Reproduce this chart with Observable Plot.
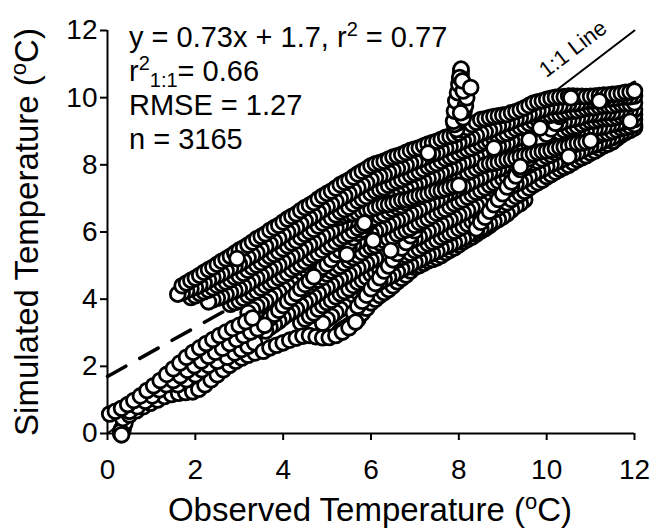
<!DOCTYPE html>
<html><head><meta charset="utf-8">
<script src="https://cdn.jsdelivr.net/npm/d3@7"></script>
<script src="https://cdn.jsdelivr.net/npm/@observablehq/plot@0.6"></script>
<style>body{margin:0;background:#fff;} svg{display:block;}</style>
</head><body><div id="chart"></div>
<script>
const xTicks = [0,2,4,6,8,10,12];
const yTicks = [0,2,4,6,8,10,12];
const fitLine = [[0,1.7],[12,10.46]];
const oneToOne = [[0,0],[12,12]];

const sA = [1.7,4.40, 1.8,4.48, 1.9,4.56, 2.0,4.63, 2.1,4.71, 2.2,4.80, 2.3,4.88, 2.4,4.95, 2.5,5.04, 2.6,5.13, 2.7,5.20, 2.8,5.28, 2.9,5.37, 3.0,5.46, 3.1,5.53, 3.2,5.61, 3.3,5.70, 3.4,5.80, 3.5,5.87, 3.6,5.95, 3.7,6.05, 3.8,6.13, 3.9,6.20, 4.0,6.30, 4.1,6.39, 4.2,6.47, 4.3,6.54, 4.4,6.64, 4.5,6.73, 4.6,6.80, 4.7,6.88, 4.8,6.98, 4.9,7.07, 5.0,7.15, 5.1,7.22, 5.2,7.31, 5.3,7.41, 5.4,7.48, 5.5,7.55, 5.6,7.64, 5.7,7.73, 5.8,7.81, 5.9,7.88, 6.0,7.97, 6.1,8.03, 6.2,8.07, 6.3,8.11, 6.4,8.17, 6.5,8.23, 6.6,8.27, 6.7,8.31, 6.8,8.37, 6.9,8.43, 7.0,8.47, 7.1,8.51, 7.2,8.57, 7.3,8.62, 7.4,8.66, 7.5,8.70, 7.6,8.76, 7.7,8.82, 7.8,8.85, 7.9,8.89, 8.0,8.95, 8.1,9.03, 8.2,9.11, 8.3,9.20, 8.4,9.27, 8.5,9.35, 8.6,9.37, 8.7,9.41, 8.8,9.44, 8.9,9.46, 9.0,9.48, 9.1,9.50, 9.2,9.55, 9.3,9.59, 9.4,9.64, 9.5,9.70, 9.6,9.77, 9.7,9.84, 9.8,9.88, 9.9,9.91, 10.0,9.95, 10.1,9.98, 10.2,10.01, 10.3,10.02, 10.4,10.03, 10.5,10.05, 10.6,10.05, 10.7,10.04, 10.8,10.04, 10.9,10.03, 11.0,10.04, 11.1,10.05, 11.2,10.06, 11.3,10.08, 11.4,10.08, 11.5,10.10, 11.6,10.11, 11.7,10.13, 11.8,10.16, 11.9,10.17, 12.0,10.20];
const sB = [1.6,4.15, 1.7,4.19, 1.8,4.25, 1.9,4.31, 2.0,4.35, 2.1,4.42, 2.2,4.48, 2.3,4.56, 2.4,4.64, 2.5,4.70, 2.6,4.76, 2.7,4.84, 2.8,4.92, 2.9,4.98, 3.0,5.05, 3.1,5.13, 3.2,5.23, 3.3,5.30, 3.4,5.38, 3.5,5.47, 3.6,5.57, 3.7,5.64, 3.8,5.72, 3.9,5.81, 4.0,5.90, 4.1,5.99, 4.2,6.07, 4.3,6.14, 4.4,6.24, 4.5,6.33, 4.6,6.41, 4.7,6.48, 4.8,6.58, 4.9,6.67, 5.0,6.75, 5.1,6.82, 5.2,6.91, 5.3,7.00, 5.4,7.07, 5.5,7.14, 5.6,7.23, 5.7,7.32, 5.8,7.39, 5.9,7.46, 6.0,7.55, 6.1,7.61, 6.2,7.66, 6.3,7.70, 6.4,7.77, 6.5,7.83, 6.6,7.88, 6.7,7.92, 6.8,7.99, 6.9,8.05, 7.0,8.10, 7.1,8.14, 7.2,8.21, 7.3,8.27, 7.4,8.32, 7.5,8.36, 7.6,8.43, 7.7,8.49, 7.8,8.54, 7.9,8.58, 8.0,8.65, 8.1,8.71, 8.2,8.76, 8.3,8.80, 8.4,8.87, 8.5,8.93, 8.6,8.98, 8.7,9.02, 8.8,9.09, 8.9,9.15, 9.0,9.20, 9.1,9.24, 9.2,9.30, 9.3,9.36, 9.4,9.40, 9.5,9.44, 9.6,9.50, 9.7,9.56, 9.8,9.60, 9.9,9.64, 10.0,9.70, 10.1,9.73, 10.2,9.74, 10.3,9.75, 10.4,9.78, 10.5,9.81, 10.6,9.82, 10.7,9.83, 10.8,9.86, 10.9,9.89, 11.0,9.90, 11.1,9.91, 11.2,9.93, 11.3,9.96, 11.4,9.96, 11.5,9.97, 11.6,9.99, 11.7,10.02, 11.8,10.02, 11.9,10.03, 12.0,10.05];
const sC = [1.9,4.05, 2.0,4.10, 2.1,4.17, 2.2,4.22, 2.3,4.27, 2.4,4.34, 2.5,4.41, 2.6,4.46, 2.7,4.51, 2.8,4.58, 2.9,4.65, 3.0,4.70, 3.1,4.77, 3.2,4.86, 3.3,4.95, 3.4,5.02, 3.5,5.09, 3.6,5.18, 3.7,5.27, 3.8,5.34, 3.9,5.41, 4.0,5.50, 4.1,5.59, 4.2,5.67, 4.3,5.74, 4.4,5.84, 4.5,5.93, 4.6,6.01, 4.7,6.08, 4.8,6.18, 4.9,6.27, 5.0,6.35, 5.1,6.42, 5.2,6.51, 5.3,6.60, 5.4,6.67, 5.5,6.74, 5.6,6.83, 5.7,6.92, 5.8,6.99, 5.9,7.06, 6.0,7.15, 6.1,7.22, 6.2,7.27, 6.3,7.32, 6.4,7.39, 6.5,7.46, 6.6,7.51, 6.7,7.56, 6.8,7.63, 6.9,7.70, 7.0,7.75, 7.1,7.80, 7.2,7.87, 7.3,7.94, 7.4,7.99, 7.5,8.04, 7.6,8.11, 7.7,8.18, 7.8,8.23, 7.9,8.28, 8.0,8.35, 8.1,8.41, 8.2,8.46, 8.3,8.50, 8.4,8.57, 8.5,8.63, 8.6,8.68, 8.7,8.72, 8.8,8.79, 8.9,8.85, 9.0,8.90, 9.1,8.94, 9.2,9.01, 9.3,9.07, 9.4,9.12, 9.5,9.16, 9.6,9.23, 9.7,9.29, 9.8,9.34, 9.9,9.38, 10.0,9.45, 10.1,9.48, 10.2,9.50, 10.3,9.51, 10.4,9.55, 10.5,9.58, 10.6,9.60, 10.7,9.61, 10.8,9.65, 10.9,9.68, 11.0,9.70, 11.1,9.70, 11.2,9.73, 11.3,9.75, 11.4,9.76, 11.5,9.76, 11.6,9.79, 11.7,9.81, 11.8,9.82, 11.9,9.82, 12.0,9.85];
const sD = [2.3,3.92, 2.4,3.98, 2.5,4.03, 2.6,4.07, 2.7,4.14, 2.8,4.20, 2.9,4.25, 3.0,4.30, 3.1,4.37, 3.2,4.46, 3.3,4.55, 3.4,4.62, 3.5,4.69, 3.6,4.78, 3.7,4.87, 3.8,4.94, 3.9,5.01, 4.0,5.10, 4.1,5.19, 4.2,5.27, 4.3,5.34, 4.4,5.44, 4.5,5.53, 4.6,5.61, 4.7,5.68, 4.8,5.78, 4.9,5.87, 5.0,5.95, 5.1,6.02, 5.2,6.11, 5.3,6.20, 5.4,6.27, 5.5,6.34, 5.6,6.43, 5.7,6.52, 5.8,6.59, 5.9,6.66, 6.0,6.75, 6.1,6.82, 6.2,6.88, 6.3,6.93, 6.4,7.01, 6.5,7.08, 6.6,7.14, 6.7,7.19, 6.8,7.27, 6.9,7.34, 7.0,7.40, 7.1,7.45, 7.2,7.52, 7.3,7.59, 7.4,7.64, 7.5,7.69, 7.6,7.76, 7.7,7.83, 7.8,7.88, 7.9,7.93, 8.0,8.00, 8.1,8.07, 8.2,8.12, 8.3,8.17, 8.4,8.24, 8.5,8.31, 8.6,8.36, 8.7,8.41, 8.8,8.48, 8.9,8.55, 9.0,8.60, 9.1,8.64, 9.2,8.71, 9.3,8.77, 9.4,8.82, 9.5,8.86, 9.6,8.93, 9.7,8.99, 9.8,9.04, 9.9,9.08, 10.0,9.15, 10.1,9.19, 10.2,9.22, 10.3,9.24, 10.4,9.29, 10.5,9.33, 10.6,9.36, 10.7,9.38, 10.8,9.43, 10.9,9.47, 11.0,9.50, 11.1,9.50, 11.2,9.53, 11.3,9.55, 11.4,9.56, 11.5,9.56, 11.6,9.59, 11.7,9.61, 11.8,9.62, 11.9,9.62, 12.0,9.65];
const sE = [2.8,3.85, 2.9,3.90, 3.0,3.95, 3.1,4.03, 3.2,4.11, 3.3,4.18, 3.4,4.24, 3.5,4.33, 3.6,4.41, 3.7,4.48, 3.8,4.54, 3.9,4.63, 4.0,4.70, 4.1,4.78, 4.2,4.88, 4.3,4.96, 4.4,5.03, 4.5,5.12, 4.6,5.22, 4.7,5.30, 4.8,5.37, 4.9,5.46, 5.0,5.55, 5.1,5.62, 5.2,5.71, 5.3,5.80, 5.4,5.87, 5.5,5.94, 5.6,6.03, 5.7,6.12, 5.8,6.19, 5.9,6.26, 6.0,6.35, 6.1,6.42, 6.2,6.48, 6.3,6.53, 6.4,6.61, 6.5,6.68, 6.6,6.74, 6.7,6.79, 6.8,6.87, 6.9,6.94, 7.0,7.00, 7.1,7.05, 7.2,7.13, 7.3,7.20, 7.4,7.26, 7.5,7.31, 7.6,7.39, 7.7,7.46, 7.8,7.52, 7.9,7.57, 8.0,7.65, 8.1,7.72, 8.2,7.77, 8.3,7.82, 8.4,7.89, 8.5,7.96, 8.6,8.01, 8.7,8.06, 8.8,8.13, 8.9,8.20, 9.0,8.25, 9.1,8.30, 9.2,8.37, 9.3,8.44, 9.4,8.49, 9.5,8.54, 9.6,8.61, 9.7,8.68, 9.8,8.73, 9.9,8.78, 10.0,8.85, 10.1,8.89, 10.2,8.94, 10.3,8.97, 10.4,9.03, 10.5,9.08, 10.6,9.12, 10.7,9.15, 10.8,9.21, 10.9,9.26, 11.0,9.30, 11.1,9.31, 11.2,9.34, 11.3,9.37, 11.4,9.38, 11.5,9.39, 11.6,9.42, 11.7,9.45, 11.8,9.46, 11.9,9.47, 12.0,9.50];
const sF = [3.2,3.60, 3.3,3.69, 3.4,3.79, 3.5,3.86, 3.6,3.94, 3.7,4.04, 3.8,4.14, 3.9,4.21, 4.0,4.30, 4.1,4.38, 4.2,4.48, 4.3,4.56, 4.4,4.63, 4.5,4.72, 4.6,4.82, 4.7,4.90, 4.8,4.97, 4.9,5.06, 5.0,5.15, 5.1,5.22, 5.2,5.31, 5.3,5.40, 5.4,5.47, 5.5,5.54, 5.6,5.63, 5.7,5.72, 5.8,5.79, 5.9,5.86, 6.0,5.95, 6.1,6.02, 6.2,6.08, 6.3,6.13, 6.4,6.21, 6.5,6.28, 6.6,6.34, 6.7,6.39, 6.8,6.47, 6.9,6.54, 7.0,6.60, 7.1,6.66, 7.2,6.74, 7.3,6.82, 7.4,6.88, 7.5,6.94, 7.6,7.02, 7.7,7.10, 7.8,7.16, 7.9,7.22, 8.0,7.30, 8.1,7.35, 8.2,7.43, 8.3,7.50, 8.4,7.56, 8.5,7.61, 8.6,7.69, 8.7,7.76, 8.8,7.82, 8.9,7.87, 9.0,7.95, 9.1,8.01, 9.2,8.07, 9.3,8.12, 9.4,8.19, 9.5,8.26, 9.6,8.31, 9.7,8.36, 9.8,8.43, 9.9,8.50, 10.0,8.55, 10.1,8.59, 10.2,8.65, 10.3,8.71, 10.4,8.75, 10.5,8.79, 10.6,8.85, 10.7,8.91, 10.8,8.95, 10.9,8.99, 11.0,9.05, 11.1,9.08, 11.2,9.11, 11.3,9.13, 11.4,9.17, 11.5,9.21, 11.6,9.23, 11.7,9.25, 11.8,9.29, 11.9,9.33, 12.0,9.35];
const sG = [3.4,3.30, 3.5,3.41, 3.6,3.50, 3.7,3.59, 3.8,3.70, 3.9,3.81, 4.0,3.90, 4.1,3.97, 4.2,4.07, 4.3,4.16, 4.4,4.23, 4.5,4.31, 4.6,4.41, 4.7,4.50, 4.8,4.57, 4.9,4.65, 5.0,4.75, 5.1,4.84, 5.2,4.91, 5.3,4.98, 5.4,5.07, 5.5,5.16, 5.6,5.23, 5.7,5.30, 5.8,5.39, 5.9,5.48, 6.0,5.55, 6.1,5.60, 6.2,5.68, 6.3,5.75, 6.4,5.80, 6.5,5.86, 6.6,5.94, 6.7,6.01, 6.8,6.06, 6.9,6.12, 7.0,6.20, 7.1,6.28, 7.2,6.34, 7.3,6.40, 7.4,6.48, 7.5,6.56, 7.6,6.62, 7.7,6.68, 7.8,6.76, 7.9,6.84, 8.0,6.90, 8.1,6.96, 8.2,7.04, 8.3,7.12, 8.4,7.18, 8.5,7.24, 8.6,7.32, 8.7,7.40, 8.8,7.46, 8.9,7.52, 9.0,7.60, 9.1,7.65, 9.2,7.73, 9.3,7.80, 9.4,7.85, 9.5,7.91, 9.6,7.99, 9.7,8.06, 9.8,8.11, 9.9,8.17, 10.0,8.25, 10.1,8.29, 10.2,8.36, 10.3,8.42, 10.4,8.46, 10.5,8.51, 10.6,8.58, 10.7,8.64, 10.8,8.68, 10.9,8.73, 11.0,8.80, 11.1,8.83, 11.2,8.88, 11.3,8.93, 11.4,8.95, 11.5,8.99, 11.6,9.04, 11.7,9.09, 11.8,9.11, 11.9,9.15, 12.0,9.20];
const sH = [3.6,3.05, 3.7,3.16, 3.8,3.25, 3.9,3.34, 4.0,3.45, 4.1,3.55, 4.2,3.63, 4.3,3.71, 4.4,3.81, 4.5,3.91, 4.6,3.99, 4.7,4.07, 4.8,4.17, 4.9,4.27, 5.0,4.35, 5.1,4.42, 5.2,4.51, 5.3,4.60, 5.4,4.67, 5.5,4.74, 5.6,4.83, 5.7,4.92, 5.8,4.99, 5.9,5.06, 6.0,5.15, 6.1,5.22, 6.2,5.27, 6.3,5.33, 6.4,5.41, 6.5,5.48, 6.6,5.53, 6.7,5.59, 6.8,5.67, 6.9,5.74, 7.0,5.80, 7.1,5.86, 7.2,5.94, 7.3,6.02, 7.4,6.08, 7.5,6.14, 7.6,6.22, 7.7,6.30, 7.8,6.36, 7.9,6.42, 8.0,6.50, 8.1,6.56, 8.2,6.64, 8.3,6.72, 8.4,6.78, 8.5,6.84, 8.6,6.92, 8.7,7.00, 8.8,7.06, 8.9,7.12, 9.0,7.20, 9.1,7.27, 9.2,7.36, 9.3,7.43, 9.4,7.49, 9.5,7.56, 9.6,7.65, 9.7,7.73, 9.8,7.80, 9.9,7.86, 10.0,7.95, 10.1,8.01, 10.2,8.06, 10.3,8.12, 10.4,8.19, 10.5,8.26, 10.6,8.31, 10.7,8.36, 10.8,8.43, 10.9,8.50, 11.0,8.55, 11.1,8.59, 11.2,8.66, 11.3,8.72, 11.4,8.76, 11.5,8.81, 11.6,8.88, 11.7,8.94, 11.8,8.98, 11.9,9.03, 12.0,9.10];
const sI = [4.4,3.30, 4.5,3.41, 4.6,3.50, 4.7,3.59, 4.8,3.70, 4.9,3.81, 5.0,3.90, 5.1,3.97, 5.2,4.07, 5.3,4.16, 5.4,4.23, 5.5,4.31, 5.6,4.41, 5.7,4.50, 5.8,4.57, 5.9,4.65, 6.0,4.75, 6.1,4.81, 6.2,4.89, 6.3,4.97, 6.4,5.03, 6.5,5.09, 6.6,5.17, 6.7,5.25, 6.8,5.31, 6.9,5.37, 7.0,5.45, 7.1,5.50, 7.2,5.58, 7.3,5.65, 7.4,5.70, 7.5,5.76, 7.6,5.84, 7.7,5.91, 7.8,5.96, 7.9,6.02, 8.0,6.10, 8.1,6.16, 8.2,6.24, 8.3,6.32, 8.4,6.38, 8.5,6.44, 8.6,6.52, 8.7,6.60, 8.8,6.66, 8.9,6.72, 9.0,6.80, 9.1,6.87, 9.2,6.97, 9.3,7.06, 9.4,7.13, 9.5,7.21, 9.6,7.31, 9.7,7.40, 9.8,7.47, 9.9,7.55, 10.0,7.65, 10.1,7.71, 10.2,7.79, 10.3,7.87, 10.4,7.93, 10.5,7.99, 10.6,8.07, 10.7,8.15, 10.8,8.21, 10.9,8.27, 11.0,8.35, 11.1,8.41, 11.2,8.49, 11.3,8.57, 11.4,8.62, 11.5,8.70];
const sJ = [4.9,3.28, 5.0,3.40, 5.1,3.49, 5.2,3.60, 5.3,3.70, 5.4,3.78, 5.5,3.87, 5.6,3.98, 5.7,4.08, 5.8,4.16, 5.9,4.25, 6.0,4.35, 6.1,4.42, 6.2,4.51, 6.3,4.59, 6.4,4.65, 6.5,4.72, 6.6,4.81, 6.7,4.89, 6.8,4.95, 6.9,5.02, 7.0,5.10, 7.1,5.16, 7.2,5.24, 7.3,5.31, 7.4,5.36, 7.5,5.42, 7.6,5.50, 7.7,5.57, 7.8,5.62, 7.9,5.68, 8.0,5.75, 8.1,5.81, 8.2,5.90, 8.3,5.97, 8.4,6.03, 8.5,6.09, 8.6,6.18, 8.7,6.25, 8.8,6.31, 8.9,6.37, 9.0,6.45, 9.1,6.54, 9.2,6.66, 9.3,6.77, 9.4,6.85, 9.5,6.96];
const sK = [5.3,3.05, 5.4,3.14, 5.5,3.22, 5.6,3.29, 5.7,3.40, 5.8,3.58, 5.9,3.73, 6.0,3.89, 6.1,4.00, 6.2,4.11, 6.3,4.20, 6.4,4.29, 6.5,4.40, 6.6,4.52, 6.7,4.62, 6.8,4.72, 6.9,4.84, 7.0,4.95, 7.1,5.00, 7.2,5.07, 7.3,5.14, 7.4,5.18, 7.5,5.23, 7.6,5.30, 7.7,5.39, 7.8,5.46, 7.9,5.53, 8.0,5.62, 8.1,5.71, 8.2,5.78, 8.3,5.85, 8.4,5.94, 8.5,6.03, 8.6,6.10, 8.7,6.19, 8.8,6.30, 8.9,6.41, 9.0,6.50, 9.1,6.59, 9.2,6.76, 9.3,6.94, 9.4,7.09, 9.5,7.24, 9.6,7.33, 9.7,7.42, 9.8,7.49, 9.9,7.55, 10.0,7.64, 10.1,7.73, 10.2,7.80, 10.3,7.87, 10.4,7.97, 10.5,8.06, 10.6,8.13, 10.7,8.21, 10.8,8.30, 10.9,8.37, 11.0,8.41, 11.1,8.46, 11.2,8.53, 11.3,8.60, 11.4,8.64, 11.5,8.69, 11.6,8.79, 11.7,8.89, 11.8,8.97, 11.9,9.05, 12.0,9.15];
// crossing strands
const cX1 = [3.6,3.30, 3.7,3.44, 3.8,3.55, 3.9,3.67, 4.0,3.81, 4.1,3.94, 4.2,4.05, 4.3,4.17, 4.4,4.32, 4.5,4.44, 4.6,4.55, 4.7,4.68, 4.8,4.82, 4.9,4.95, 5.0,5.05, 5.1,5.18, 5.2,5.33, 5.3,5.45, 5.4,5.56, 5.5,5.68, 5.6,5.83, 5.7,5.96, 5.8,6.06, 5.9,6.19, 6.0,6.33, 6.1,6.46, 6.2,6.57, 6.3,6.69, 6.4,6.84, 6.5,6.96, 6.6,7.07, 6.7,7.19, 6.8,7.34, 6.9,7.46, 7.0,7.57];
const cX2 = [4.6,6.20, 4.7,6.25, 4.8,6.27, 4.9,6.30, 5.0,6.35, 5.1,6.39, 5.2,6.40, 5.3,6.44, 5.4,6.49, 5.5,6.53, 5.6,6.54, 5.7,6.58, 5.8,6.63, 5.9,6.67, 6.0,6.68, 6.1,6.72, 6.2,6.77, 6.3,6.81, 6.4,6.82, 6.5,6.86, 6.6,6.91, 6.7,6.95, 6.8,6.96, 6.9,7.00, 7.0,7.05, 7.1,7.09, 7.2,7.10, 7.3,7.14, 7.4,7.19, 7.5,7.23, 7.6,7.24, 7.7,7.28, 7.8,7.33, 7.9,7.37, 8.0,7.39];
const cX3 = [8.4,6.10, 8.5,6.29, 8.6,6.44, 8.7,6.62, 8.8,6.81, 8.9,6.97, 9.0,7.14, 9.1,7.34, 9.2,7.49, 9.3,7.67, 9.4,7.86, 9.5,8.02, 9.6,8.19, 9.7,8.39, 9.8,8.54, 9.9,8.72, 10.0,8.91, 10.1,9.07, 10.2,9.24, 10.3,9.44, 10.4,9.59];
const cX4 = [8.6,8.00, 8.7,8.04, 8.8,8.05, 8.9,8.08, 9.0,8.13, 9.1,8.16, 9.2,8.17, 9.3,8.20, 9.4,8.25, 9.5,8.28, 9.6,8.29, 9.7,8.32, 9.8,8.37, 9.9,8.40, 10.0,8.41, 10.1,8.44, 10.2,8.49, 10.3,8.52, 10.4,8.53, 10.5,8.56, 10.6,8.61, 10.7,8.64, 10.8,8.65, 10.9,8.68, 11.0,8.72];
const cX5 = [5.6,3.60, 5.7,3.79, 5.8,3.94, 5.9,4.12, 6.0,4.31, 6.1,4.47, 6.2,4.64, 6.3,4.84, 6.4,4.99, 6.5,5.17, 6.6,5.36, 6.7,5.52, 6.8,5.69, 6.9,5.89, 7.0,6.04, 7.1,6.22, 7.2,6.41];
const spike = [7.95,9.05, 7.98,9.25, 8.00,9.45, 8.03,9.65, 8.05,9.85, 8.06,10.05, 8.05,10.25, 8.04,10.42, 8.03,10.55, 8.04,10.63, 8.05,10.70, 8.04,10.76, 8.05,10.81, 8.05,10.85, 7.90,9.20, 7.92,9.50, 7.88,9.30, 7.90,9.60, 7.93,9.90, 7.97,10.15, 8.00,10.40, 8.02,10.60, 8.10,9.40, 8.12,9.60, 8.15,9.75, 8.18,10.00, 8.10,10.20, 8.08,10.50];
const lowRow = [3.55,2.45, 3.70,2.55, 3.85,2.63, 4.00,2.70, 4.15,2.78, 4.30,2.84, 4.45,2.90, 4.60,2.92, 4.75,2.88, 4.90,2.85, 5.05,2.86, 5.20,2.92, 5.35,3.02, 5.50,3.15, 5.65,3.32];
const nearZero = [0.30,0.00, 0.31,0.04, 0.33,0.08, 0.32,0.12, 0.34,0.16, 0.33,0.03, 0.35,0.10, 0.36,0.20, 0.38,0.26, 0.40,0.33, 0.30,0.06, 0.32,-0.04];
const tailTop = [0.05,0.58, 0.18,0.66, 0.32,0.75, 0.46,0.86, 0.60,0.98, 0.75,1.12, 0.90,1.28, 1.05,1.42, 1.20,1.58, 1.35,1.76, 1.50,1.93, 1.65,2.10, 1.80,2.27, 1.95,2.42, 2.10,2.55, 2.25,2.68, 2.40,2.80, 2.55,2.92, 2.70,3.02, 2.85,3.13, 3.00,3.22, 3.15,3.33, 3.30,3.44];
const tailLow = [0.35,0.45, 0.50,0.55, 0.66,0.68, 0.82,0.80, 0.98,0.90, 1.14,1.00, 1.30,1.10, 1.46,1.16, 1.62,1.20, 1.78,1.22, 1.94,1.24, 2.08,1.32, 2.22,1.45, 2.36,1.60, 2.50,1.75, 2.64,1.90, 2.78,2.03, 2.92,2.15, 3.06,2.25, 3.20,2.33, 3.36,2.40];
const tailMid = [0.50,0.66, 0.68,0.80, 0.86,0.96, 1.02,1.12, 1.18,1.30, 1.34,1.45, 1.50,1.58, 1.66,1.72, 1.82,1.88, 1.98,2.02, 2.14,2.16, 2.30,2.30, 2.46,2.42, 2.62,2.54, 2.78,2.68, 2.94,2.80, 3.10,2.92, 3.26,3.02, 3.42,3.12, 3.58,3.22];
const tailMid2 = [1.60,1.45, 1.80,1.60, 2.00,1.75, 2.15,1.90, 2.30,2.03, 2.50,2.15, 2.73,2.27, 2.90,2.40, 3.05,2.50, 3.20,2.60, 3.35,2.70];
const whiteDots = [5.45,5.33, 4.70,4.67, 5.85,6.27, 6.05,5.75, 6.45,5.45, 7.30,8.35, 8.80,8.50, 9.60,8.75, 10.50,8.25, 10.55,10.00, 11.20,9.90, 11.90,9.30, 9.85,9.10, 9.40,7.95, 8.27,10.30, 8.04,9.55, 2.95,5.21];

const pairs = (flat) => { const out = []; for (let i = 0; i < flat.length; i += 2) out.push([flat[i], flat[i + 1]]); return out; };
const rev = (flat) => pairs(flat).reverse();

const points = [].concat(
  pairs(sK), rev(sJ), pairs(sI), rev(sH), pairs(cX5), pairs(sG), rev(sF), pairs(cX1), pairs(sE), rev(sD), pairs(cX3), pairs(cX2),
  pairs(sC), rev(sB), pairs(cX4), pairs(sA),
  pairs(spike), pairs(nearZero), pairs(tailLow), pairs(tailMid2), pairs(tailMid), pairs(tailTop), pairs(lowRow), pairs(whiteDots)
);

const font = "'Liberation Sans', Arial, Helvetica, sans-serif";
const chart = Plot.plot({
  width: 650, height: 531,
  marginLeft: 107, marginRight: 16, marginTop: 30, marginBottom: 98,
  x: {domain: [0, 12], label: null},
  y: {domain: [0, 12], label: null},
  style: {fontFamily: font, fontSize: "28px", color: "black", background: "white", overflow: "visible"},
  marks: [
    Plot.axisX({ticks: xTicks, tickSize: 7, tickPadding: 19, strokeWidth: 2, fontSize: 28, label: null}),
    Plot.axisY({ticks: yTicks, tickSize: 7, tickPadding: 3, strokeWidth: 2, fontSize: 28, label: null}),
    Plot.ruleY([0], {stroke: "black", strokeWidth: 2}),
    Plot.ruleX([0], {stroke: "black", strokeWidth: 2}),
    Plot.line(oneToOne, {x: d => d[0], y: d => d[1], stroke: "black", strokeWidth: 2}),
    Plot.line(fitLine, {x: d => d[0], y: d => d[1], stroke: "black", strokeWidth: 3.5, strokeDasharray: "21,16"}),
    Plot.dot(points, {x: d => d[0], y: d => d[1], r: 7.4, fill: "white", stroke: "black", strokeWidth: 2.8}),
    Plot.text([{x: 10.6, y: 11.45, t: "1:1 Line"}], {x: "x", y: "y", text: "t", rotate: -37.4, fontSize: 22, fill: "black"})
  ]
});
document.getElementById("chart").appendChild(chart);

const svg = d3.select(chart);
function addText(x, y, parts, size, anchor, rotate) {
  const t = svg.append("text").attr("x", x).attr("y", y)
    .attr("font-family", font).attr("font-size", size).attr("fill", "black")
    .attr("text-anchor", anchor);
  if (rotate) t.attr("transform", `rotate(${rotate},${x},${y})`);
  for (const p of parts) {
    const s = t.append("tspan").text(p.text);
    if (p.size) s.attr("font-size", p.size);
    if (p.dy) s.attr("dy", p.dy);
  }
  return t;
}
addText(129, 47, [{text: "y = 0.73x + 1.7, r"}, {text: "2", size: 20, dy: -11}, {text: " = 0.77", dy: 11}], 29, "start");
addText(129, 81, [{text: "r"}, {text: "2", size: 20, dy: -11}, {text: "1:1", size: 20, dy: 17}, {text: "= 0.66", dy: -6}], 29, "start");
addText(129, 115, [{text: "RMSE = 1.27"}], 29, "start");
addText(129, 149, [{text: "n = 3165"}], 29, "start");
addText(370, 521, [{text: "Observed Temperature ("}, {text: "o", size: 22, dy: -12}, {text: "C)", dy: 12}], 33, "middle");
addText(38, 232, [{text: "Simulated Temperature ("}, {text: "o", size: 22, dy: -12}, {text: "C)", dy: 12}], 33, "middle", -90);
</script>
</body></html>
